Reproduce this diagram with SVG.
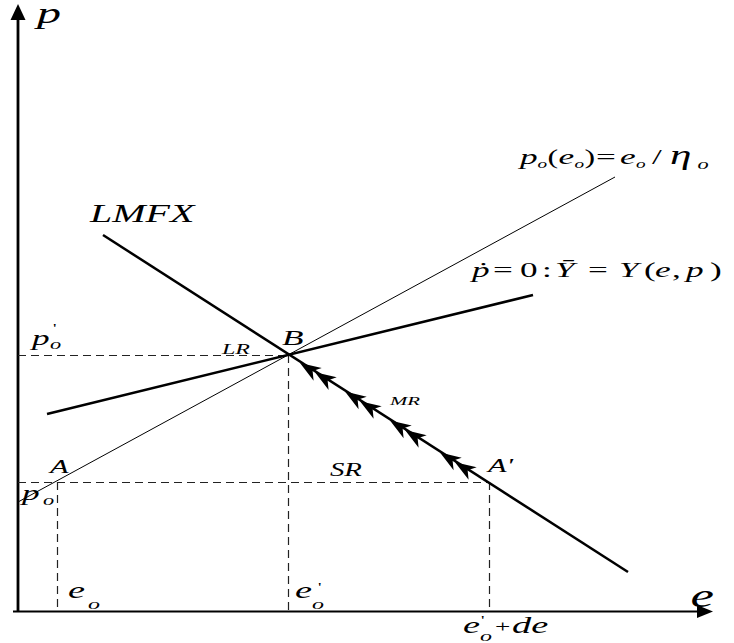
<svg xmlns="http://www.w3.org/2000/svg" width="734" height="643" viewBox="0 0 734 643">
<style>
.t{font-family:"Liberation Serif","Times New Roman",serif;font-style:italic;fill:#000}
.u{font-style:normal}
.ax{stroke:#000;fill:none}
.thick{stroke:#000;stroke-width:2.5;fill:none}
.thin{stroke:#000;stroke-width:1;fill:none}
.dash{stroke:#222;stroke-width:1.2;stroke-dasharray:8 5;fill:none}
</style>
<defs>
<path id="ah" d="M0,0 L-21,-7.5 L-15,0 L-21,7.5 Z" fill="#000"/>
</defs>
<rect width="734" height="643" fill="#fff"/>
<g id="axes">
<line class="ax" x1="18" y1="612" x2="18" y2="18" stroke-width="2.8"/>
<polygon points="18,4 10.5,20 25.5,20" fill="#000"/>
<line class="ax" x1="13" y1="611.5" x2="699" y2="611.5" stroke-width="2"/>
<polygon points="713,611.5 697,605 697,618" fill="#000"/>
</g>
<g id="connectors">
<line class="dash" x1="18" y1="355.5" x2="288" y2="355.5"/>
<line class="dash" x1="288.5" y1="355" x2="288.5" y2="611"/>
<line class="dash" x1="18" y1="482.5" x2="489" y2="482.5"/>
<line class="dash" x1="57.5" y1="482" x2="57.5" y2="611"/>
<line class="dash" x1="489.5" y1="482" x2="489.5" y2="611"/>
<line id="line-eta" class="thin" x1="18" y1="502" x2="615" y2="177"/>
<line id="line-lmfx" class="thick" x1="103" y1="235" x2="628" y2="572"/>
<line id="line-pdot" class="thick" x1="47" y1="414" x2="533" y2="295"/>
<g id="arrows">
<use href="#ah" transform="translate(300,363) rotate(212.7)"/>
<use href="#ah" transform="translate(315,372.3) rotate(212.7)"/>
<use href="#ah" transform="translate(345,391.6) rotate(212.7)"/>
<use href="#ah" transform="translate(360,401.2) rotate(212.7)"/>
<use href="#ah" transform="translate(390,420.5) rotate(212.7)"/>
<use href="#ah" transform="translate(405,430.1) rotate(212.7)"/>
<use href="#ah" transform="translate(440,452.6) rotate(212.7)"/>
<use href="#ah" transform="translate(455,462.2) rotate(212.7)"/>
</g>
</g>
<g id="labels" transform="scale(1.6,1)">
<text id="lbl-p" class="t" x="23.1" y="23" font-size="30">p</text>
<text id="lbl-e" class="t" x="431.5" y="607" font-size="33">e</text>
<text id="lbl-lmfx" class="t" x="56.25" y="222" font-size="25">LMFX</text>
<text id="lbl-B" class="t" x="176.25" y="345" font-size="22">B</text>
<text id="lbl-LR" class="t" x="138.75" y="354" font-size="15">LR</text>
<text id="lbl-MR" class="t" x="243.75" y="405" font-size="13">MR</text>
<text id="lbl-SR" class="t" x="206.25" y="476" font-size="18">SR</text>
<text id="lbl-A2" class="t" x="305" y="472" font-size="19">A'</text>
<text id="lbl-A" class="t" x="31.25" y="473" font-size="19">A</text>
<g id="lbl-po">
<text class="t" x="13.75" y="500" font-size="22">p</text>
<text class="t" x="26.9" y="505" font-size="14">o</text>
</g>
<g id="lbl-po1">
<text class="t" x="20" y="345" font-size="22">p</text>
<text class="t" x="31.25" y="349" font-size="14">o</text>
<text class="t u" x="33.1" y="332" font-size="12">'</text>
</g>
<g id="lbl-eo">
<text class="t" x="42.5" y="598" font-size="24">e</text>
<text class="t" x="55" y="609" font-size="15">o</text>
</g>
<g id="lbl-eo1">
<text class="t" x="184.4" y="598" font-size="24">e</text>
<text class="t" x="195" y="609" font-size="15">o</text>
<text class="t u" x="198.75" y="591" font-size="12">'</text>
</g>
<g id="lbl-eode">
<text class="t" x="289.4" y="633" font-size="24">e</text>
<text class="t" x="300" y="641" font-size="15">o</text>
<text class="t u" x="300.6" y="624" font-size="12">'</text>
<text class="t u" x="309.4" y="632" font-size="17">+</text>
<text class="t" x="320" y="633" font-size="24">de</text>
</g>
<g id="lbl-formula1" font-size="22">
<text class="t" x="325" y="164">p</text>
<text class="t" x="336" y="168" font-size="12">o</text>
<text class="t u" x="342.2" y="164" font-size="20">(</text>
<text class="t" x="349" y="164">e</text>
<text class="t" x="359" y="168" font-size="12">o</text>
<text class="t u" x="365.3" y="164" font-size="20">)</text>
<text class="t u" x="372.5" y="164">=</text>
<text class="t" x="387.5" y="164">e</text>
<text class="t" x="397.5" y="168" font-size="12">o</text>
<text class="t u" x="407.5" y="164">/</text>
<text class="t" x="418.8" y="164" font-size="27">η</text>
<text class="t" x="436" y="169" font-size="14">o</text>
</g>
<g id="lbl-formula2" font-size="22">
<text class="t" x="295" y="277">ṗ</text>
<text class="t u" x="308.1" y="277">=</text>
<text class="t u" x="325" y="277">0</text>
<text class="t u" x="338.75" y="277">:</text>
<text class="t" x="346.9" y="277">Ȳ</text>
<text class="t u" x="367.5" y="277">=</text>
<text class="t" x="386.9" y="277">Y</text>
<text class="t u" x="402.5" y="277">(</text>
<text class="t" x="409.4" y="277">e</text>
<text class="t u" x="420" y="277">,</text>
<text class="t" x="428.8" y="277">p</text>
<text class="t u" x="443.8" y="277">)</text>
</g>
</g>
</svg>
